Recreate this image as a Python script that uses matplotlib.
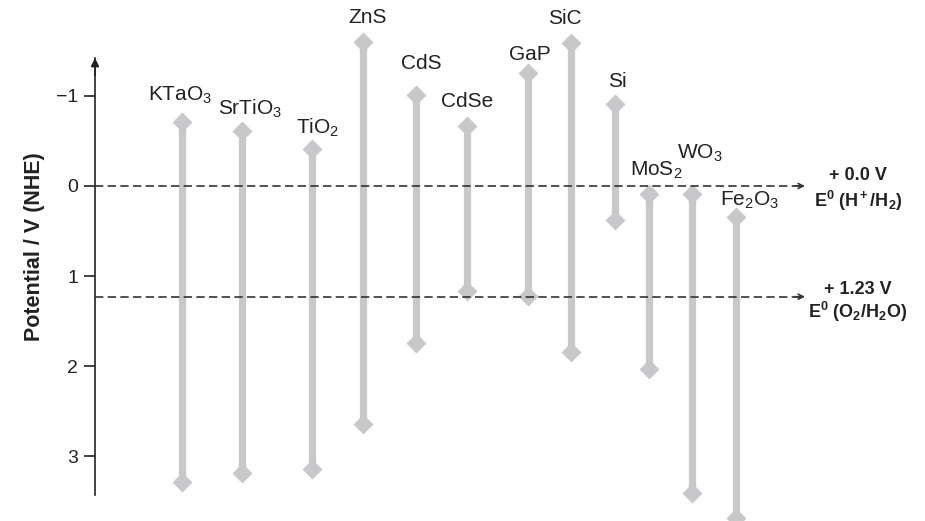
import matplotlib.pyplot as plt

plt.rcParams['font.family'] = 'Liberation Sans'
plt.rcParams['mathtext.fontset'] = 'custom'
plt.rcParams['mathtext.rm'] = 'Liberation Sans'
plt.rcParams['mathtext.it'] = 'Liberation Sans:italic'
plt.rcParams['mathtext.bf'] = 'Liberation Sans:bold'

# band positions vs NHE (V)
materials = ['KTaO$_3$', 'SrTiO$_3$', 'TiO$_2$', 'ZnS', 'CdS', 'CdSe', 'GaP',
             'SiC', 'Si', 'MoS$_2$', 'WO$_3$', 'Fe$_2$O$_3$']
cb_edge = [-0.71, -0.61, -0.41, -1.60, -1.01, -0.67, -1.25, -1.59, -0.91, 0.09, 0.09, 0.35]
vb_edge = [3.29, 3.19, 3.14, 2.64, 1.74, 1.17, 1.22, 1.84, 0.38, 2.03, 3.41, 3.69]

ref_potentials = [0.0, 1.23]
ref_values = ['+ 0.0 V', '+ 1.23 V']
ref_couples = [r'$\mathbf{E^0\ (H^+/H_2)}$', r'$\mathbf{E^0\ (O_2/H_2O)}$']
yticks = [-1, 0, 1, 2, 3]

# layout only: column positions and label nudges (pixels)
x_pos = [8.7, 14.7, 21.7, 26.8, 32.1, 37.2, 43.3, 47.6, 52.0, 55.4, 59.7, 64.1]
label_off = [(-2, 27), (8, 22), (6, 21), (5, 24), (5, 32), (0, 24), (2, 19),
             (-6, 24), (2, 23), (7, 24), (8, 41), (14, 17)]

bar_color = '#c8c8ca'
line_color = '#333333'

fig = plt.figure(figsize=(9.25, 5.21), dpi=100)
ax = fig.add_axes([95 / 925, 1 - 495 / 521, 710 / 925, 437 / 521])
ax.set_xlim(0, 71)
ax.set_ylim(3.433, -1.422)

for x, top, bot, name, (dx, dy) in zip(x_pos, cb_edge, vb_edge, materials, label_off):
    ax.plot([x, x], [top, bot], color=bar_color, lw=5.2, solid_capstyle='butt',
            clip_on=False, zorder=2)
    ax.plot([x, x], [top, bot], 'D', color=bar_color, ms=10, mec='none',
            clip_on=False, zorder=2)
    ax.annotate(name, xy=(x, top), xytext=(dx, dy), textcoords='offset pixels',
                ha='center', va='center', fontsize=15, color='#222222',
                annotation_clip=False)

for v, val, couple in zip(ref_potentials, ref_values, ref_couples):
    ax.plot([0, 70.6], [v, v], color=line_color, lw=1.2, ls=(0, (5, 2.6)), zorder=3)
    ax.annotate('', xy=(71, v), xytext=(70.0, v),
                arrowprops=dict(arrowstyle='->', color=line_color, lw=1.2,
                                mutation_scale=9, shrinkA=0, shrinkB=0),
                annotation_clip=False)
    ax.annotate(val, xy=(76.3, v), xytext=(0, 10 if v == 0 else 7),
                textcoords='offset pixels', ha='center', va='center',
                fontsize=13, fontweight='bold', color='#222222',
                annotation_clip=False)
    ax.annotate(couple, xy=(76.3, v), xytext=(0, -15),
                textcoords='offset pixels', ha='center', va='center',
                fontsize=13, color='#222222', annotation_clip=False)

for side in ['top', 'right', 'bottom']:
    ax.spines[side].set_visible(False)
ax.spines['left'].set_color('#222222')
ax.spines['left'].set_linewidth(1.2)
ax.annotate('', xy=(0, 1.0), xycoords='axes fraction', xytext=(0, 0.96),
            arrowprops=dict(arrowstyle='-|>', color='#222222', lw=1.2,
                            mutation_scale=12, shrinkA=0, shrinkB=0))

ax.set_xticks([])
ax.set_yticks(yticks)
ax.set_yticklabels(['\u2212' + str(-t) if t < 0 else str(t) for t in yticks])
ax.tick_params(axis='y', direction='out', length=8, width=1.2, labelsize=14,
               pad=4, colors='#222222')

fig.text(35 / 925, 1 - 247 / 521, 'Potential / V (NHE)', rotation=90,
         ha='center', va='center', fontsize=15.5, fontweight='bold', color='#222222')

fig.savefig('out.png', dpi=100)
